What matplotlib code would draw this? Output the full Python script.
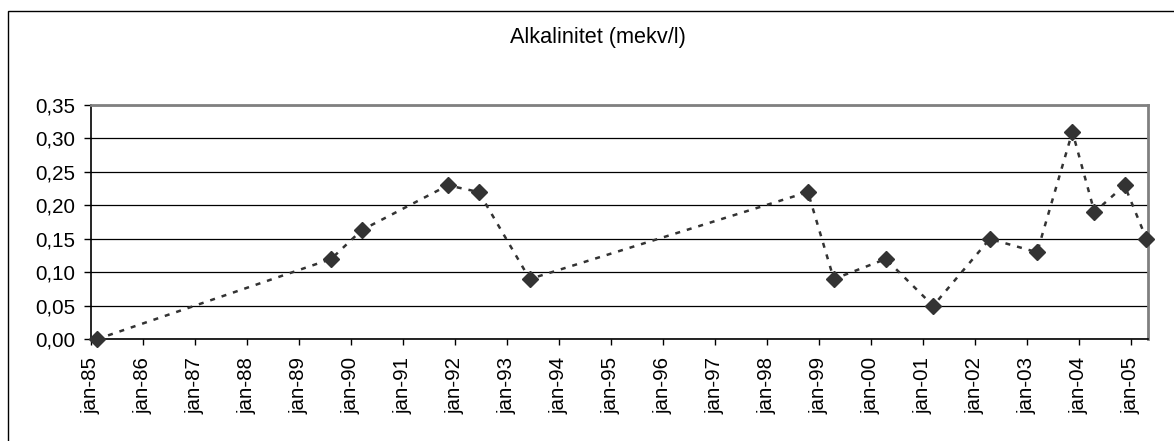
import matplotlib
matplotlib.use("Agg")
import matplotlib.pyplot as plt
from matplotlib.patches import Rectangle
from matplotlib.ticker import FuncFormatter
import datetime as dt

# Sampling dates and alkalinity values (mekv/l)
sample_dates = [
    "1985-02-10", "1989-08-15", "1990-03-17", "1991-11-13", "1992-06-17",
    "1993-06-10", "1998-10-16", "1999-04-16", "2000-04-15", "2001-03-14",
    "2002-04-16", "2003-03-14", "2003-11-17", "2004-04-20", "2004-11-17",
    "2005-04-20",
]
alkalinity = [
    0.00, 0.12, 0.163, 0.23, 0.22,
    0.09, 0.22, 0.09, 0.12, 0.05,
    0.15, 0.13, 0.31, 0.19, 0.23,
    0.15,
]
tick_years = list(range(1985, 2006))
tick_labels = [f"jan-{y % 100:02d}" for y in tick_years]
y_ticks = [0.00, 0.05, 0.10, 0.15, 0.20, 0.25, 0.30, 0.35]

plt.rcParams["font.family"] = ["Liberation Sans", "DejaVu Sans"]

W, H = 1174, 441
fig = plt.figure(figsize=(W / 100, H / 100), dpi=100)
fig.patch.set_facecolor("white")

# Chart frame
fig.patches.append(Rectangle((8 / W, -0.05), 1.2, 1 - 11 / H + 0.05,
                             transform=fig.transFigure, fill=False,
                             edgecolor="black", linewidth=1.0, zorder=0))

left, right, bottom, top = 91 / W, 1148 / W, (H - 339.3) / H, (H - 105) / H
ax = fig.add_axes([left, bottom, right - left, top - bottom])

x = [dt.datetime.strptime(d, "%Y-%m-%d") for d in sample_dates]
ax.plot(x, alkalinity, color="#333333", linewidth=1.8, linestyle=(0, (2.0, 2.8)),
        marker="D", markersize=7.8, markerfacecolor="#333333",
        markeredgecolor="#333333", zorder=3, clip_on=False)

ax.set_xlim(dt.datetime(1985, 1, 1), dt.datetime(2005, 5, 1))
ax.set_ylim(0, 0.35)

ax.set_xticks([dt.datetime(y, 1, 1) for y in tick_years])
ax.set_xticklabels(tick_labels, rotation=90, fontsize=14.8)
ax.set_yticks(y_ticks)
ax.yaxis.set_major_formatter(FuncFormatter(lambda v, p: f"{v:.2f}".replace(".", ",")))
ax.tick_params(axis="y", labelsize=14.8, length=5, width=1, direction="out", pad=6)
ax.tick_params(axis="x", length=4, width=1, direction="out", pad=9)

ax.yaxis.grid(True, color="black", linewidth=0.9)
ax.set_axisbelow(True)

for s in ("left", "bottom"):
    ax.spines[s].set_color("black")
    ax.spines[s].set_linewidth(1.2)
for s in ("top", "right"):
    ax.spines[s].set_color("#808080")
    ax.spines[s].set_linewidth(2.0)

fig.text(598 / W, 1 - 38 / H, "Alkalinitet (mekv/l)", ha="center", va="center",
         fontsize=15.6)

fig.savefig("out.png", dpi=100)
